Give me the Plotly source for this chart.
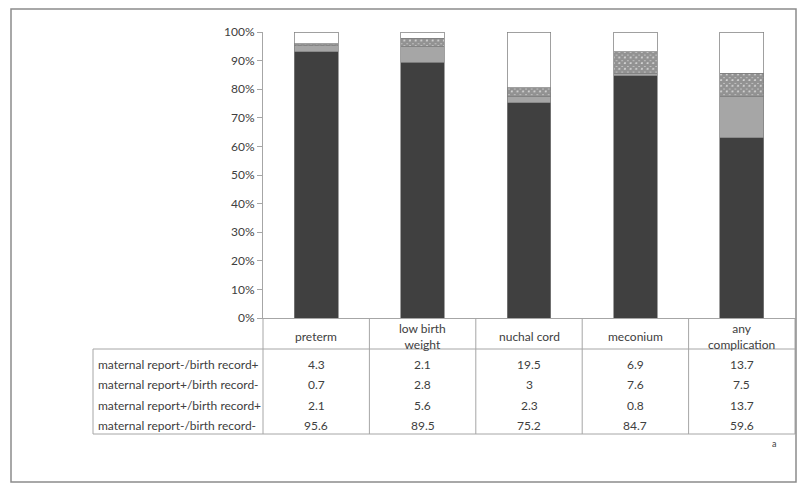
import plotly.graph_objects as go

categories = ["preterm", "low birth weight", "nuchal cord", "meconium", "any complication"]
header_labels = ["preterm", "low birth<br>weight", "nuchal cord", "meconium", "any<br>complication"]

# series (table order top to bottom)
rep_neg_rec_pos = [4.3, 2.1, 19.5, 6.9, 13.7]
rep_pos_rec_neg = [0.7, 2.8, 3, 7.6, 7.5]
rep_pos_rec_pos = [2.1, 5.6, 2.3, 0.8, 13.7]
rep_neg_rec_neg = [95.6, 89.5, 75.2, 84.7, 59.6]

row_labels = [
    "maternal report-/birth record+",
    "maternal report+/birth record-",
    "maternal report+/birth record+",
    "maternal report-/birth record-",
]
row_values = [rep_neg_rec_pos, rep_pos_rec_neg, rep_pos_rec_pos, rep_neg_rec_neg]

FONT = "Lato"
TXT = "#404040"
LINE = "#a6a6a6"
OUTLINE = "#808080"

fig = go.Figure()
x_idx = list(range(len(categories)))

fig.add_trace(go.Bar(x=x_idx, y=rep_neg_rec_neg, name=row_labels[3],
                     marker=dict(color="#404040", line=dict(color=OUTLINE, width=0.75))))
fig.add_trace(go.Bar(x=x_idx, y=rep_pos_rec_pos, name=row_labels[2],
                     marker=dict(color="#a6a6a6", line=dict(color=OUTLINE, width=0.75))))
fig.add_trace(go.Bar(x=x_idx, y=rep_pos_rec_neg, name=row_labels[1],
                     marker=dict(color="white", line=dict(color=OUTLINE, width=0.75),
                                 pattern=dict(shape="x", fgcolor="#262626", bgcolor="white",
                                              size=4, solidity=0.9))))
fig.add_trace(go.Bar(x=x_idx, y=rep_neg_rec_pos, name=row_labels[0],
                     marker=dict(color="white", line=dict(color=OUTLINE, width=0.75))))

W, H = 800, 486
L = 263
T = 32
B = H - 318
R = W - 795
pw = W - L - R
ph = H - T - B

def px_x(px):
    return (px - L) / pw

def px_y(py):
    return (H - B - py) / ph

fig.update_layout(
    width=W, height=H,
    margin=dict(l=L, r=R, t=T, b=B),
    barmode="stack", barnorm="percent", bargap=0.59,
    showlegend=False,
    plot_bgcolor="white", paper_bgcolor="white",
    font=dict(family=FONT, size=12, color=TXT),
    xaxis=dict(range=[-0.5, 4.5], showticklabels=False, ticks="", showgrid=False,
               zeroline=False, showline=True, linecolor=LINE, linewidth=1),
    yaxis=dict(range=[0, 100], dtick=10, ticksuffix="%", showgrid=False, zeroline=False,
               showline=True, linecolor=LINE, linewidth=1, ticks="outside",
               tickcolor=LINE, ticklen=5, tickfont=dict(family=FONT, size=12, color=TXT)),
)

shapes = []
line = dict(color=LINE, width=1)
y_head_bot = px_y(349)
y_tab_bot = px_y(434)
x_tab_left = px_x(93)
for i in range(len(categories) + 1):
    shapes.append(dict(type="line", xref="paper", yref="paper",
                       x0=i / len(categories), x1=i / len(categories),
                       y0=0, y1=y_tab_bot, line=line))
for yy in (y_head_bot, y_tab_bot):
    shapes.append(dict(type="line", xref="paper", yref="paper", x0=x_tab_left, x1=1,
                       y0=yy, y1=yy, line=line))
shapes.append(dict(type="line", xref="paper", yref="paper", x0=x_tab_left, x1=x_tab_left,
                   y0=y_head_bot, y1=y_tab_bot, line=line))
shapes.append(dict(type="rect", xref="paper", yref="paper", x0=px_x(11), x1=px_x(796),
                   y0=px_y(482), y1=px_y(9), line=dict(color="#8c8c8c", width=1.5)))
fig.update_layout(shapes=shapes)

ann = []
for i, lab in enumerate(header_labels):
    ann.append(dict(x=i, y=px_y(336), xref="x", yref="paper", text=lab, showarrow=False,
                    font=dict(family=FONT, size=12, color=TXT), xanchor="center", yanchor="middle"))
row_y = [364, 384.5, 405, 425.5]
for r, (lab, vals) in enumerate(zip(row_labels, row_values)):
    ann.append(dict(x=px_x(96), y=px_y(row_y[r]), xref="paper", yref="paper", text=lab,
                    showarrow=False, xanchor="left", yanchor="middle",
                    font=dict(family=FONT, size=12, color=TXT)))
    for i, v in enumerate(vals):
        ann.append(dict(x=i, y=px_y(row_y[r]), xref="x", yref="paper", text=str(v),
                        showarrow=False, xanchor="center", yanchor="middle",
                        font=dict(family=FONT, size=12, color=TXT)))
ann.append(dict(x=px_x(778), y=px_y(451), xref="paper", yref="paper", text="a",
                showarrow=False, font=dict(family=FONT, size=9, color=TXT)))
fig.update_layout(annotations=ann)

fig.write_html("out.html", config={"displayModeBar": False},
               post_script="document.body.style.margin='0';document.body.style.overflow='hidden';")
